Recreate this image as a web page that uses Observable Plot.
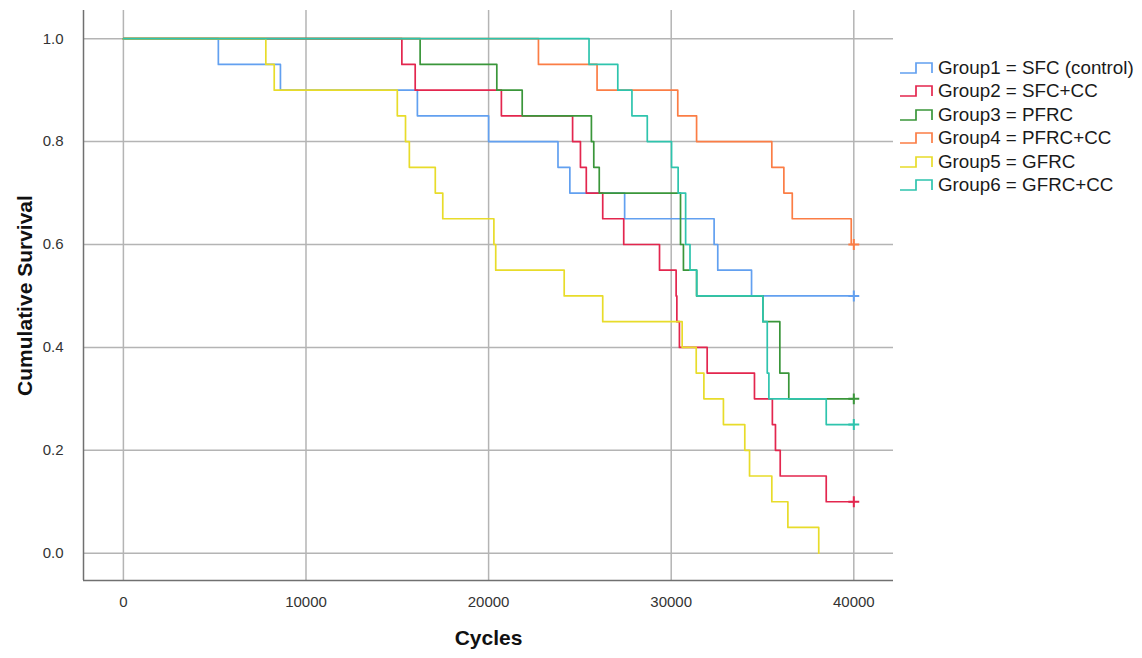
<!DOCTYPE html>
<html>
<head>
<meta charset="utf-8">
<script src="https://cdn.jsdelivr.net/npm/d3@7"></script>
<script src="https://cdn.jsdelivr.net/npm/@observablehq/plot@0.6"></script>
<style>
  html, body { margin: 0; padding: 0; background: #fff; }
  #wrap { position: relative; width: 1142px; height: 658px; font-family: "Liberation Sans", Arial, sans-serif; }
  #legend { position: absolute; left: 899px; top: 56px; }
  .row { display: flex; align-items: center; height: 23.5px; }
  .row svg { width: 34px; height: 12px; margin-right: 5px; flex: none; }
  .row span { font-size: 18.8px; color: #1a1a1a; white-space: nowrap; }
</style>
</head>
<body>
<div id="wrap"><div id="legend"></div></div>
<script>
// ---- data ----
const groupNames = ["Group1 = SFC (control)", "Group2 = SFC+CC", "Group3 = PFRC", "Group4 = PFRC+CC", "Group5 = GFRC", "Group6 = GFRC+CC"];
const groupColors = ["#62a0f0", "#e3264e", "#3a963a", "#fb7d45", "#e8dc2a", "#2ec4ad"];

const g1Times = [0, 5200, 8600, 16100, 20000, 23800, 24450, 27450, 32350, 32550, 34400, 40000];
const g1Surv  = [1, 0.95, 0.90, 0.85, 0.80, 0.75, 0.70, 0.65, 0.60, 0.55, 0.50, 0.50];

const g2Times = [0, 15250, 15980, 20700, 24600, 25030, 25350, 26250, 27400, 29360, 30270, 30310, 30450, 31970, 34560, 35540, 35710, 35970, 38490, 40000];
const g2Surv  = [1, 0.95, 0.90, 0.85, 0.80, 0.75, 0.70, 0.65, 0.60, 0.55, 0.50, 0.45, 0.40, 0.35, 0.30, 0.25, 0.20, 0.15, 0.10, 0.10];

const g3Times = [0, 16250, 20450, 21840, 25630, 25760, 26060, 30510, 30670, 31390, 35020, 35950, 36440, 40000];
const g3Surv  = [1, 0.95, 0.90, 0.85, 0.80, 0.75, 0.70, 0.60, 0.55, 0.50, 0.45, 0.35, 0.30, 0.30];

const g4Times = [0, 22730, 25940, 30360, 31390, 35510, 36170, 36630, 39860, 40000];
const g4Surv  = [1, 0.95, 0.90, 0.85, 0.80, 0.75, 0.70, 0.65, 0.60, 0.60];

const g5Times = [0, 7800, 8260, 15000, 15450, 15660, 17080, 17490, 20290, 20390, 24140, 26250, 30600, 31370, 31790, 32860, 34030, 34290, 35510, 36390, 38080];
const g5Surv  = [1, 0.95, 0.90, 0.85, 0.80, 0.75, 0.70, 0.65, 0.60, 0.55, 0.50, 0.45, 0.40, 0.35, 0.30, 0.25, 0.20, 0.15, 0.10, 0.05, 0];

const g6Times = [0, 25500, 27075, 27850, 28690, 30020, 30380, 30790, 31030, 31400, 35020, 35260, 35350, 38490, 40000];
const g6Surv  = [1, 0.95, 0.90, 0.85, 0.80, 0.75, 0.70, 0.60, 0.55, 0.50, 0.45, 0.35, 0.30, 0.25, 0.25];

// censored observations (end of follow-up)
const censorGroups = [0, 1, 2, 3, 5];
const censorTime = 40000;

const xTicks = [0, 10000, 20000, 30000, 40000];
const yTicks = [0, 0.2, 0.4, 0.6, 0.8, 1.0];
const xTitle = "Cycles";
const yTitle = "Cumulative Survival";

// ---- build tables ----
const allTimes = [g1Times, g2Times, g3Times, g4Times, g5Times, g6Times];
const allSurv = [g1Surv, g2Surv, g3Surv, g4Surv, g5Surv, g6Surv];
const steps = [];
allTimes.forEach((ts, gi) => ts.forEach((t, i) => steps.push({group: groupNames[gi], t, s: allSurv[gi][i]})));
const censors = censorGroups.map(gi => ({group: groupNames[gi], t: censorTime, s: allSurv[gi][allSurv[gi].length - 1]}));

const xDomain = [-2185, 42174];
const yDomain = [-0.0531, 1.0548];
const font = '"Liberation Sans", Arial, sans-serif';

const chart = Plot.plot({
  width: 1142,
  height: 658,
  marginLeft: 83,
  marginRight: 249,
  marginTop: 10,
  marginBottom: 78,
  style: {fontFamily: font, color: "#333", background: "#fff", overflow: "visible"},
  x: {domain: xDomain},
  y: {domain: yDomain},
  color: {domain: groupNames, range: groupColors},
  marks: [
    Plot.gridX({ticks: xTicks, stroke: "#b4b4b4", strokeOpacity: 1, strokeWidth: 1.5}),
    Plot.gridY({ticks: yTicks, stroke: "#b4b4b4", strokeOpacity: 1, strokeWidth: 1.5}),
    Plot.ruleX([xDomain[0]], {stroke: "#707070", strokeWidth: 1.5}),
    Plot.ruleY([yDomain[0]], {stroke: "#707070", strokeWidth: 1.5}),
    Plot.axisX({ticks: xTicks, tickSize: 0, tickPadding: 16, fontSize: 15, label: null, tickFormat: d3.format("d")}),
    Plot.axisY({ticks: yTicks, tickSize: 0, tickPadding: 20, fontSize: 15, label: null, tickFormat: d3.format(".1f")}),
    Plot.line(steps, {x: "t", y: "s", z: "group", stroke: "group", curve: "step-after", strokeWidth: 1.7}),
    Plot.dot(censors, {x: "t", y: "s", stroke: "group", symbol: "plus", r: 3.6, strokeWidth: 2}),
    Plot.text([yTitle], {frameAnchor: "left", dx: -58, rotate: -90, textAnchor: "middle", lineAnchor: "middle", fontSize: 21, fontWeight: "bold", fill: "#111"}),
    Plot.text([xTitle], {frameAnchor: "bottom", dy: 58, textAnchor: "middle", lineAnchor: "middle", fontSize: 21, fontWeight: "bold", fill: "#111"})
  ]
});
document.getElementById("wrap").prepend(chart);

// ---- legend ----
const legend = document.getElementById("legend");
groupNames.forEach((name, i) => {
  const row = document.createElement("div");
  row.className = "row";
  row.innerHTML = `<svg viewBox="0 0 34 12"><path d="M1,11H17V1H33V11" fill="none" stroke="${groupColors[i]}" stroke-width="1.7"/></svg><span>${name}</span>`;
  legend.appendChild(row);
});
</script>
</body>
</html>
